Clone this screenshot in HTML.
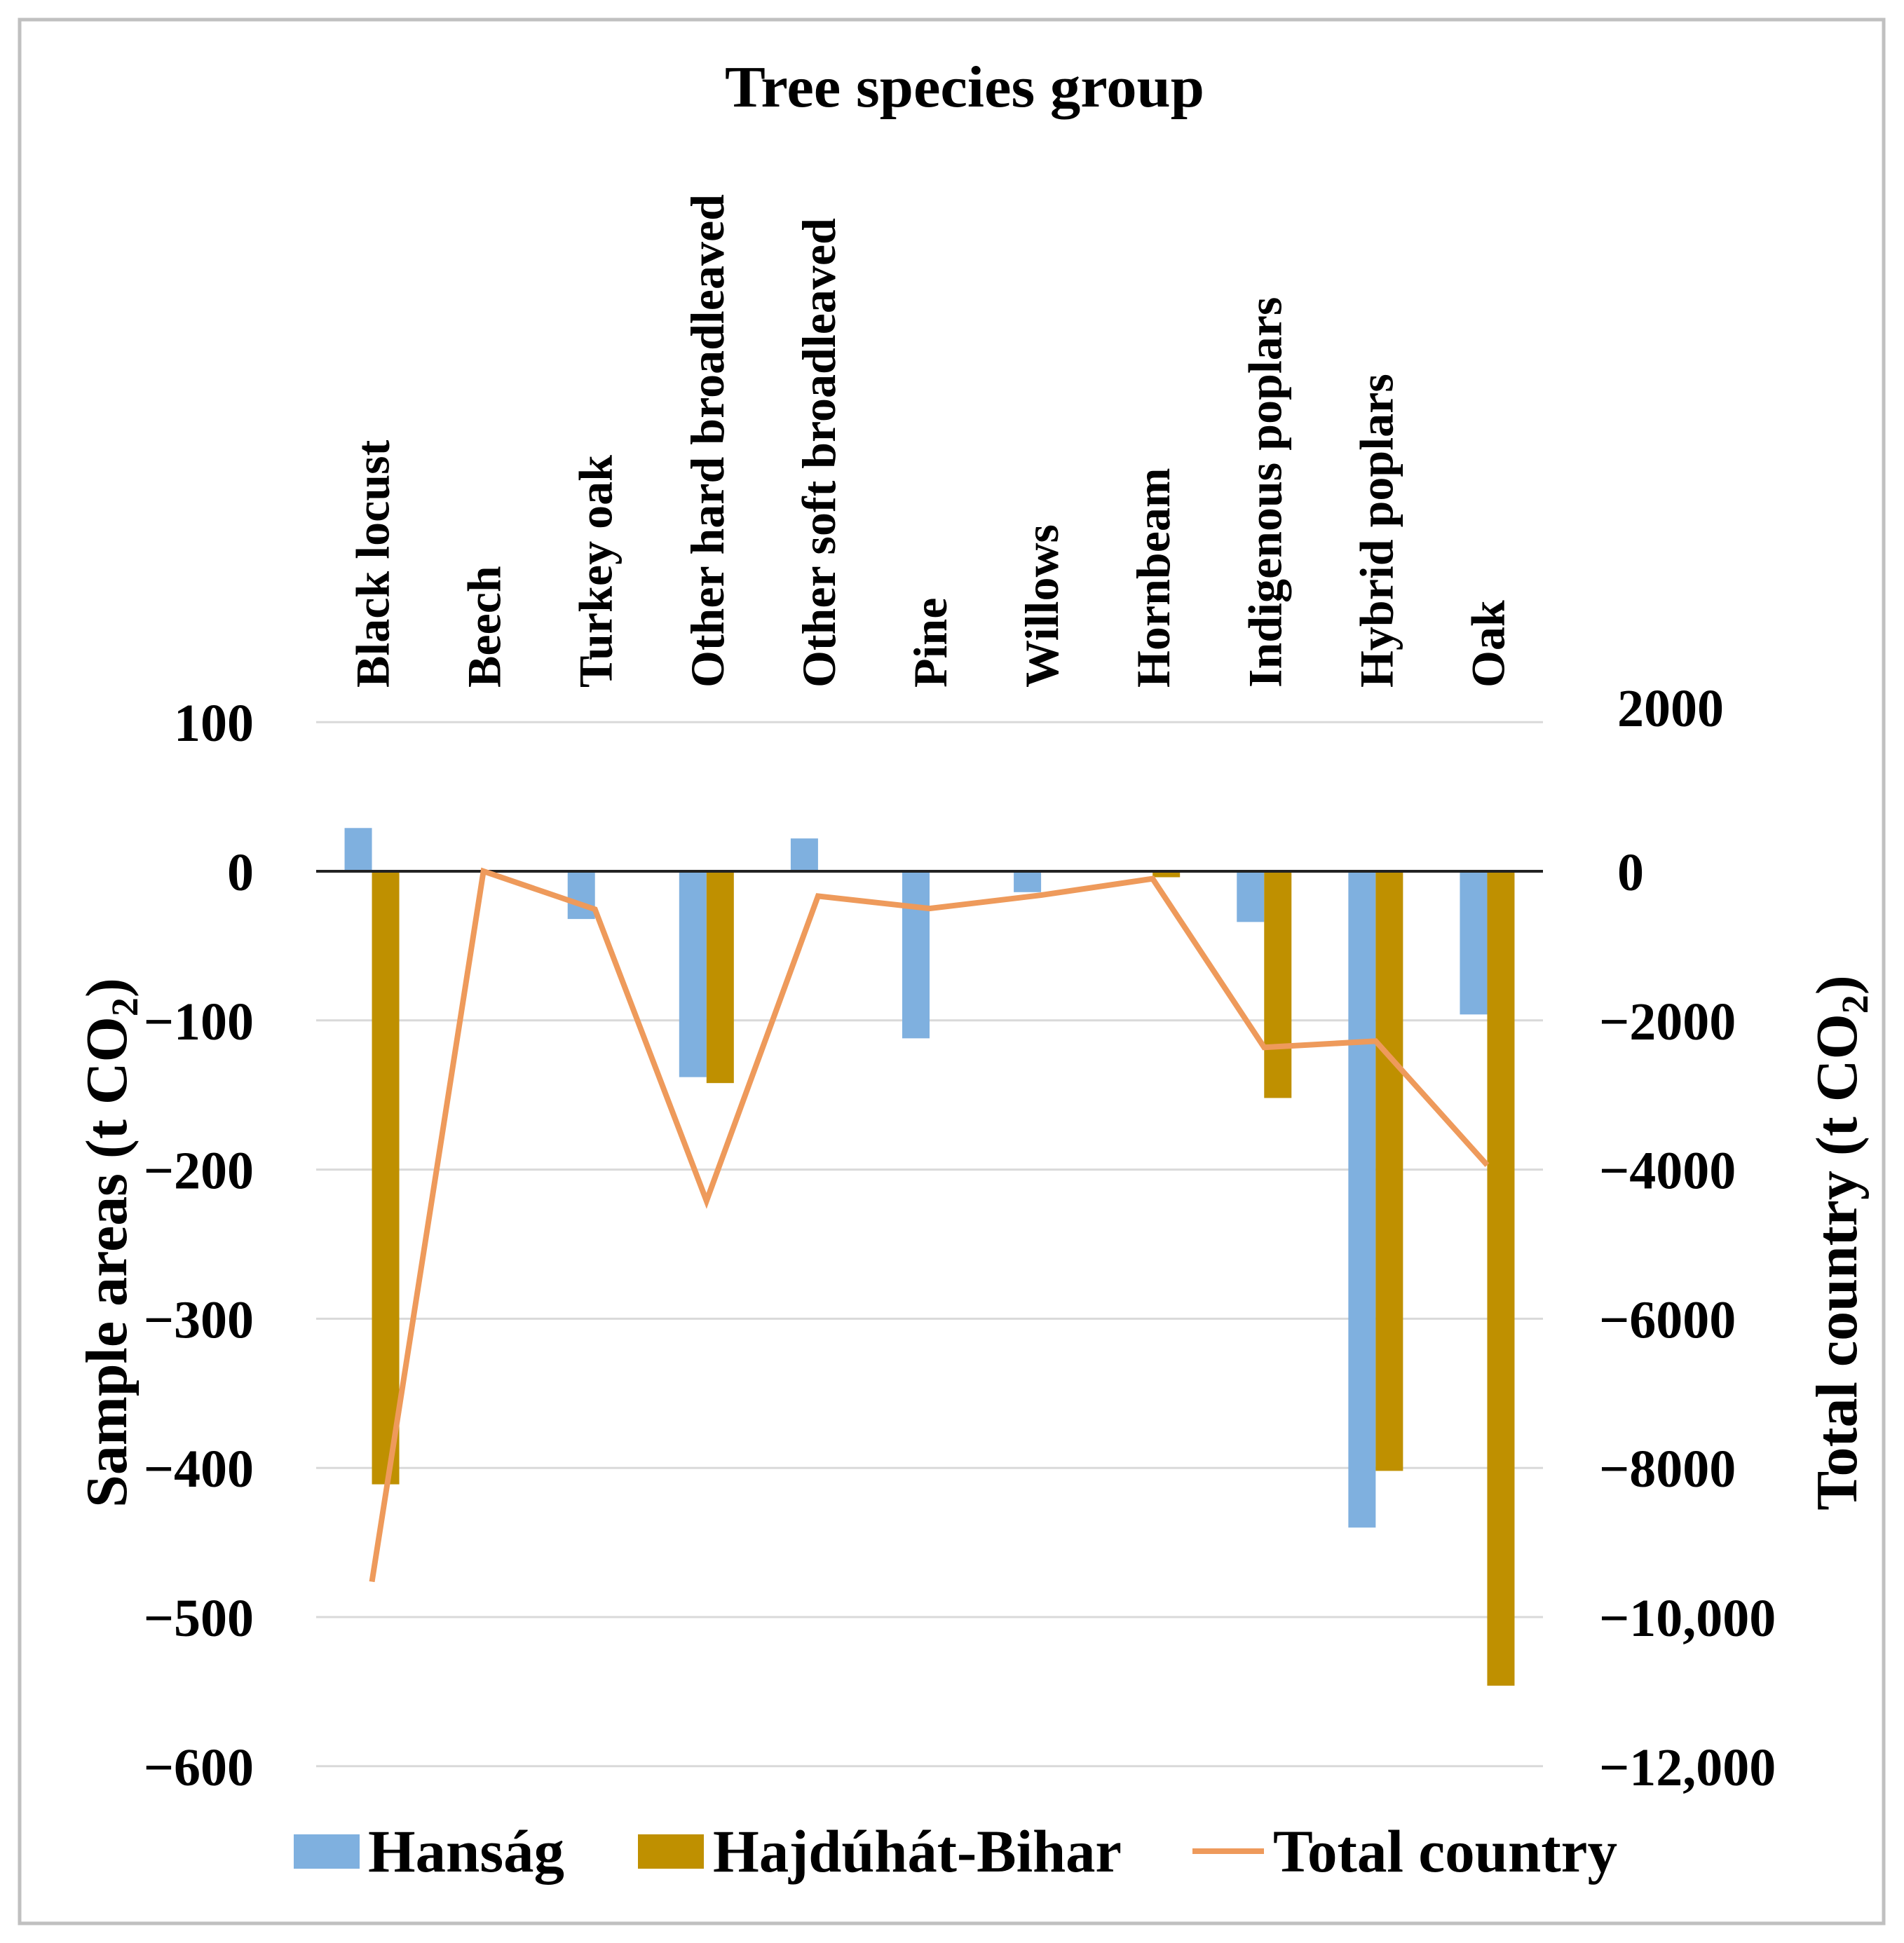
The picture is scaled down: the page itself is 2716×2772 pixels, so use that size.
<!DOCTYPE html>
<html><head><meta charset="utf-8"><style>
html,body{margin:0;padding:0;background:#fff;}
svg{display:block;}
text{font-family:"Liberation Serif",serif;fill:#000;}
</style></head><body>
<svg id="chart" width="2716" height="2772" viewBox="0 0 2716 2772">
<rect x="28" y="28" width="2659" height="2716" fill="#fff" stroke="#c0c0c0" stroke-width="5"/>
<text x="1376" y="152" text-anchor="middle" font-size="84" font-weight="bold" textLength="684" lengthAdjust="spacingAndGlyphs">Tree species group</text>
<g id="grid"></g>
<g id="bars"></g>
<line id="zero" stroke="#222" stroke-width="4"/>
<g id="line"></g>
<g id="cats"></g>
<g id="lticks"></g>
<g id="rticks"></g>
<text transform="translate(180,1773) rotate(-90)" text-anchor="middle" font-size="84" font-weight="bold">Sample areas (t CO<tspan font-size="54" dy="16">2</tspan><tspan dy="-16">)</tspan></text>
<text transform="translate(2648,1773) rotate(-90)" text-anchor="middle" font-size="84" font-weight="bold">Total country (t CO<tspan font-size="54" dy="16">2</tspan><tspan dy="-16">)</tspan></text>
<g>
<rect x="419" y="2617" width="94" height="49" fill="#7FB0DF"/>
<text x="525" y="2670" font-size="86" font-weight="bold" textLength="280" lengthAdjust="spacingAndGlyphs">Hanság</text>
<rect x="910" y="2617" width="94" height="49" fill="#BF9000"/>
<text x="1017" y="2670" font-size="86" font-weight="bold" textLength="583" lengthAdjust="spacingAndGlyphs">Hajdúhát-Bihar</text>
<line x1="1701" y1="2641" x2="1803" y2="2641" stroke="#EE9A5B" stroke-width="8"/>
<text x="1816" y="2670" font-size="86" font-weight="bold" textLength="491" lengthAdjust="spacingAndGlyphs">Total country</text>
</g>
</svg>
<script>
const categories = ["Black locust","Beech","Turkey oak","Other hard broadleaved","Other soft broadleaved","Pine","Willows","Hornbeam","Indigenous poplars","Hybrid poplars","Oak"];
const hansag = [29,0,-32,-138,22,-112,-14,0,-34,-440,-96];
const hajduhat = [-411,0,0,-142,0,0,0,-4,-152,-402,-546];
const totalCountry = [-9526,0,-510,-4420,-333,-499,-320,-100,-2361,-2278,-3940];
const leftTicks = [100,0,-100,-200,-300,-400,-500,-600];
const rightTicks = [2000,0,-2000,-4000,-6000,-8000,-10000,-12000];

const NS="http://www.w3.org/2000/svg";
const X0=451, X1=2201, Y0=1243, PX100=212.8;
const band=(X1-X0)/categories.length, bw=39;
const yL=v=>Y0-v/100*PX100;
const yR=v=>yL(v/20);
const xc=i=>X0+band*(i+0.5);
function mk(tag,attrs,parent){const e=document.createElementNS(NS,tag);for(const k in attrs)e.setAttribute(k,attrs[k]);document.getElementById(parent).appendChild(e);return e;}
const fmt=v=>{let s=Math.abs(v)>=10000?Math.abs(v).toLocaleString('en-US'):String(Math.abs(v));return (v<0?'\u2212':'')+s;};

leftTicks.forEach(t=>{
  if(t!==0){const g=mk('line',{x1:X0,x2:X1,y1:yL(t),y2:yL(t),stroke:'#d9d9d9','stroke-width':3},'grid');
  
  }
  const tx=mk('text',{x:362,y:yL(t)+27,'text-anchor':'end','font-size':76,'font-weight':'bold'},'lticks');
  tx.textContent=fmt(t);
  
  
});
rightTicks.forEach(t=>{
  const tx=mk('text',{x:t>=0?2307:2281,y:yR(t)+(t===2000?6:27),'font-size':76,'font-weight':'bold'},'rticks');
  tx.textContent=fmt(t);
  
  
});
const z=document.getElementById('zero');
z.setAttribute('x1',X0);z.setAttribute('x2',X1);z.setAttribute('y1',Y0);z.setAttribute('y2',Y0);

categories.forEach((c,i)=>{
  const h=hansag[i], d=hajduhat[i];
  if(h!==0){const r=mk('rect',{x:xc(i)-bw,y:Math.min(yL(h),Y0),width:bw,height:Math.abs(yL(h)-Y0),fill:'#7FB0DF'},'bars');
  
  }
  if(d!==0){const r=mk('rect',{x:xc(i),y:Math.min(yL(d),Y0),width:bw,height:Math.abs(yL(d)-Y0),fill:'#BF9000'},'bars');
  
  }
  const t=mk('text',{transform:`translate(${xc(i)+24},981) rotate(-90)`,'font-size':68,'font-weight':'bold'},'cats');
  t.textContent=c;
  
  
});
const pts=totalCountry.map((v,i)=>xc(i)+','+yR(v)).join(' ');
const pl=mk('polyline',{points:pts,fill:'none',stroke:'#EE9A5B','stroke-width':8,'stroke-linejoin':'miter'},'line');


</script>
</body></html>
